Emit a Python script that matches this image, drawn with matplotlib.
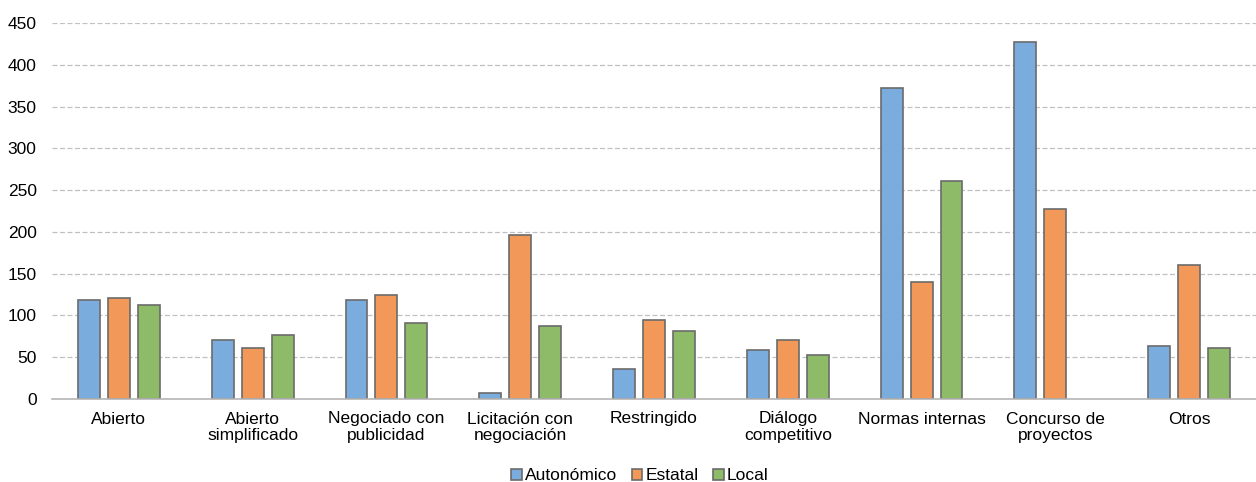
import matplotlib.pyplot as plt
import numpy as np

plt.rcParams['font.family'] = ['Liberation Sans', 'DejaVu Sans']

categorias = ['Abierto', 'Abierto\nsimplificado', 'Negociado con\npublicidad',
              'Licitación con\nnegociación', 'Restringido', 'Diálogo\ncompetitivo',
              'Normas internas', 'Concurso de\nproyectos', 'Otros']
autonomico = [119, 71, 118, 7, 36, 59, 372, 427, 63]
estatal = [121, 61, 124, 196, 94, 71, 140, 227, 160]
local = [113, 77, 91, 87, 81, 53, 261, 0, 61]

series = [('Autonómico', autonomico, '#7aaddd'),
          ('Estatal', estatal, '#f2995a'),
          ('Local', local, '#8dbb67')]

fig = plt.figure(figsize=(12.56, 4.82), dpi=100)
ax = fig.add_axes([52/1256, 1 - 399/482, 1 - 52/1256, 376/482])

x = np.arange(len(categorias))
w = 0.164
paso = 0.224
for i, (nombre, vals, col) in enumerate(series):
    vals = np.array(vals, dtype=float)
    # las barras con valor 0 no se dibujan
    vals[vals == 0] = np.nan
    ax.bar(x + (i - 1) * paso, vals, w, color=col, edgecolor='#6b6b6b',
           linewidth=1.2, label=nombre, zorder=3)

ax.set_xlim(-0.5, len(categorias) - 0.5)
ax.set_ylim(0, 450)
ax.set_yticks(np.arange(0, 451, 50))
ax.set_xticks(x)
ax.set_xticklabels(categorias, fontsize=12.5, linespacing=1.15)
ax.tick_params(axis='y', labelsize=12.5, length=0, pad=11)
ax.tick_params(axis='x', length=0, pad=9)
ax.yaxis.grid(True, color='#c0c0c0', linestyle=(0, (4, 2)), linewidth=0.9, zorder=0)
for s in ['top', 'right', 'left']:
    ax.spines[s].set_visible(False)
ax.spines['bottom'].set_color('#b5b5b5')
ax.spines['bottom'].set_linewidth(1.2)
ax.spines['bottom'].set_zorder(4)

ax.legend(loc='center', bbox_to_anchor=(640/1256, 1 - 476/482),
          bbox_transform=fig.transFigure, ncol=3,
          frameon=False, fontsize=12.5, handlelength=0.62, handleheight=0.62,
          handletextpad=0.2, columnspacing=0.8)

fig.savefig('out.png', dpi=100)
